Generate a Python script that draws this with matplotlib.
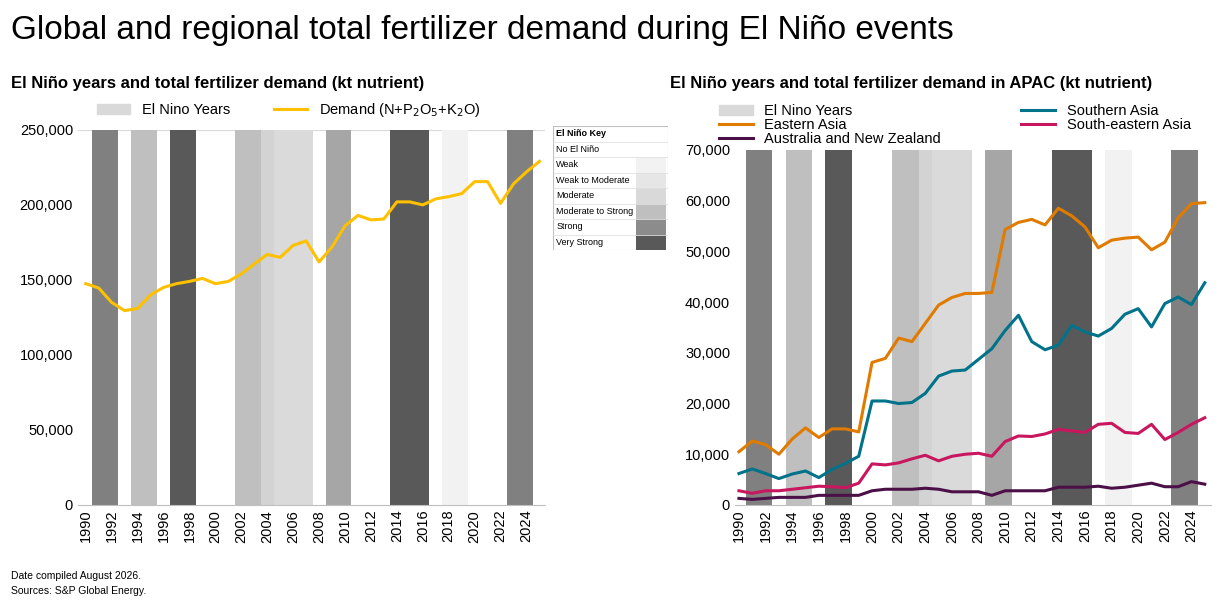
import matplotlib
matplotlib.use("Agg")
import matplotlib.pyplot as plt
from matplotlib.patches import Patch, Rectangle
from matplotlib.lines import Line2D
from matplotlib.ticker import FuncFormatter

plt.rcParams['font.family'] = ['Liberation Sans', 'DejaVu Sans']

years = list(range(1990, 2026))
# El Niño shading per year (hex grey, None = no El Niño)
shade = [None, '#808080', '#808080', None, '#BFBFBF', '#BFBFBF', None, '#595959', '#595959', None,
         None, None, '#BFBFBF', '#BFBFBF', '#D3D3D3', '#DADADA', '#DADADA', '#DADADA', None, '#A6A6A6',
         '#A6A6A6', None, None, None, '#595959', '#595959', '#595959', None, '#F2F2F2', '#F2F2F2',
         None, None, None, '#808080', '#808080', None]

demand = [147.5, 144.6, 135, 129.5, 131, 140, 145, 147.5, 149, 151,
          147.5, 149, 154, 160.6, 167, 165, 173, 176, 162, 172,
          186, 193, 190, 190.6, 202, 202, 200, 204, 205.5, 207.5,
          215.5, 215.5, 201, 214, 222, 229]
demand = [v * 1000 for v in demand]

eastern = [10.5, 12.6, 11.9, 10, 13, 15.2, 13.3, 15, 15, 14.4,
           28.1, 28.9, 32.9, 32.2, 35.8, 39.4, 40.9, 41.7, 41.7, 41.9,
           54.3, 55.7, 56.3, 55.2, 58.5, 57, 54.8, 50.7, 52.2, 52.6,
           52.8, 50.3, 51.8, 56.6, 59.4, 59.6]
southern = [6.2, 7.1, 6.2, 5.2, 6.1, 6.7, 5.4, 7, 8.2, 9.6,
            20.5, 20.5, 20, 20.2, 22, 25.4, 26.4, 26.6, 28.7, 30.8,
            34.4, 37.4, 32.2, 30.6, 31.5, 35.4, 34.1, 33.3, 34.8, 37.6,
            38.7, 35.1, 39.7, 41, 39.5, 43.8]
seasia = [2.8, 2.3, 2.8, 2.8, 3.1, 3.4, 3.7, 3.6, 3.4, 4.3,
          8.1, 7.9, 8.3, 9.1, 9.8, 8.7, 9.6, 10, 10.2, 9.6,
          12.5, 13.6, 13.5, 14, 14.9, 14.6, 14.3, 15.9, 16.1, 14.3,
          14.1, 15.9, 12.9, 14.3, 15.9, 17.2]
anz = [1.3, 1.1, 1.3, 1.5, 1.5, 1.5, 1.9, 1.9, 1.9, 1.9,
       2.8, 3.1, 3.1, 3.1, 3.3, 3.1, 2.6, 2.6, 2.6, 1.9,
       2.8, 2.8, 2.8, 2.8, 3.5, 3.5, 3.5, 3.7, 3.3, 3.5,
       3.9, 4.3, 3.6, 3.6, 4.6, 4.1]
eastern = [v * 1000 for v in eastern]
southern = [v * 1000 for v in southern]
seasia = [v * 1000 for v in seasia]
anz = [v * 1000 for v in anz]

key_labels = ['No El Niño', 'Weak', 'Weak to Moderate', 'Moderate', 'Moderate to Strong', 'Strong', 'Very Strong']
key_colors = ['#FFFFFF', '#F2F2F2', '#E6E6E6', '#D9D9D9', '#BFBFBF', '#8C8C8C', '#595959']

fig = plt.figure(figsize=(12.28, 6.06), dpi=100)
fig.text(0.009, 0.935, 'Global and regional total fertilizer demand during El Niño events', fontsize=24)
fig.text(0.009, 0.855, 'El Niño years and total fertilizer demand (kt nutrient)', fontsize=12, fontweight='bold')
fig.text(0.546, 0.855, 'El Niño years and total fertilizer demand in APAC (kt nutrient)', fontsize=12, fontweight='bold')
fig.text(0.009, 0.045, 'Date compiled August 2026.', fontsize=7.5)
fig.text(0.009, 0.019, 'Sources: S&P Global Energy.', fontsize=7.5)

fmt = FuncFormatter(lambda v, p: f'{int(v):,}')

def style(ax, ymax, step, xlim):
    for y, c in zip(years, shade):
        if c:
            ax.bar(y, ymax, width=1.0, color=c, zorder=1)
    ax.set_xlim(*xlim)
    ax.set_ylim(0, ymax)
    ax.set_yticks(range(0, ymax + 1, step))
    ax.yaxis.set_major_formatter(fmt)
    ax.set_xticks(years[::2])
    ax.set_xticklabels([str(y) for y in years[::2]], rotation=90, fontsize=10.5)
    ax.tick_params(axis='y', labelsize=10.5, length=0)
    ax.tick_params(axis='x', length=0)
    for s in ['top', 'right', 'left']:
        ax.spines[s].set_visible(False)
    ax.spines['bottom'].set_color('#BFBFBF')

ax1 = fig.add_axes([0.0635, 0.1667, 0.380, 0.619])
style(ax1, 250000, 50000, (1989.4, 2025.4))
ax1.axhline(250000, color='#D9D9D9', lw=0.8, zorder=0)
ax1.plot(years, demand, color='#FFC000', lw=2.2, zorder=3)
fig.legend(handles=[Patch(color='#D9D9D9', label='El Nino Years'),
                    Line2D([], [], color='#FFC000', lw=2.2, label=r'Demand (N+P$_2$O$_5$+K$_2$O)')],
           loc='center', bbox_to_anchor=(0.235, 0.818), ncol=2, frameon=False, fontsize=10.5,
           handlelength=2.3, columnspacing=3)

ax2 = fig.add_axes([0.5985, 0.1667, 0.388, 0.586])
style(ax2, 70000, 10000, (1989.7, 2025.5))
c_e, c_s, c_se, c_a = '#E07B00', '#00728A', '#C8175E', '#4B1048'
ax2.plot(years, eastern, color=c_e, lw=2.2, zorder=3)
ax2.plot(years, southern, color=c_s, lw=2.2, zorder=3)
ax2.plot(years, seasia, color=c_se, lw=2.2, zorder=3)
ax2.plot(years, anz, color=c_a, lw=2.2, zorder=3)
fig.legend(handles=[Patch(color='#D9D9D9', label='El Nino Years'),
                    Line2D([], [], color=c_e, lw=2.2, label='Eastern Asia'),
                    Line2D([], [], color=c_a, lw=2.2, label='Australia and New Zealand'),
                    Line2D([], [], color=c_s, lw=2.2, label='Southern Asia'),
                    Line2D([], [], color=c_se, lw=2.2, label='South-eastern Asia')],
           loc='upper left', bbox_to_anchor=(0.575, 0.85), ncol=2, frameon=False, fontsize=10.5,
           handlelength=2.3, columnspacing=5.5, labelspacing=0.0)

# El Niño key table
axk = fig.add_axes([553 / 1228, 1 - 250 / 606, 115 / 1228, 124 / 606])
axk.set_xlim(0, 1); axk.set_ylim(0, 8); axk.axis('off')
axk.add_patch(Rectangle((0, 0), 1, 8, fill=False, ec='#BFBFBF', lw=0.8))
axk.text(0.03, 7.5, 'El Niño Key', fontsize=6.5, fontweight='bold', va='center')
for i, (lab, col) in enumerate(zip(key_labels, key_colors)):
    yb = 6 - i
    axk.add_patch(Rectangle((0.72, yb), 0.26, 1, color=col, ec='none'))
    axk.plot([0, 1], [yb + 1, yb + 1], color='#E0E0E0', lw=0.6)
    axk.text(0.03, yb + 0.5, lab, fontsize=6.5, va='center')

fig.savefig('out.png', dpi=100)
